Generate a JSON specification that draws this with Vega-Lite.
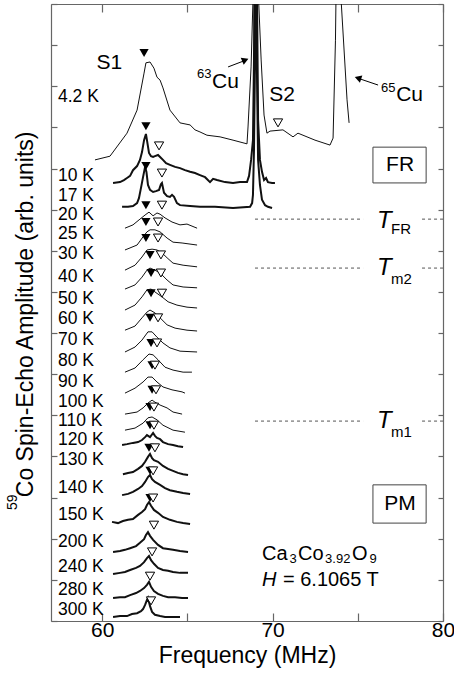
{
  "$schema": "https://vega.github.io/schema/vega-lite/v6.json",
  "width": 392,
  "height": 617,
  "autosize": {"type": "none"},
  "padding": {"left": 51, "top": 4, "right": 11, "bottom": 60},
  "background": "white",
  "config": {
    "view": {"stroke": null},
    "font": "Liberation Sans",
    "axis": {"grid": false, "domainColor": "#666666", "tickColor": "#666666", "domainWidth": 1.2, "tickWidth": 1.2, "labelColor": "#000000", "titleColor": "#000000", "titleFontWeight": "normal", "labelFlush": false, "labelOverlap": false}
  },
  "datasets": {
    "thin": [
      {"s": "4.2 K", "f": 59.58, "a": 11.21}, {"s": "4.2 K", "f": 60.46, "a": 11.30}, {"s": "4.2 K", "f": 61.46, "a": 11.86}, {"s": "4.2 K", "f": 62.05, "a": 12.42}, {"s": "4.2 K", "f": 62.46, "a": 13.32}, {"s": "4.2 K", "f": 62.57, "a": 13.57}, {"s": "4.2 K", "f": 62.81, "a": 13.59}, {"s": "4.2 K", "f": 63.04, "a": 13.44}, {"s": "4.2 K", "f": 63.22, "a": 13.22}, {"s": "4.2 K", "f": 63.40, "a": 13.15}, {"s": "4.2 K", "f": 63.57, "a": 12.96}, {"s": "4.2 K", "f": 63.98, "a": 12.42}, {"s": "4.2 K", "f": 64.57, "a": 12.11}, {"s": "4.2 K", "f": 65.16, "a": 12.06}, {"s": "4.2 K", "f": 65.45, "a": 11.94}, {"s": "4.2 K", "f": 65.74, "a": 11.89}, {"s": "4.2 K", "f": 66.15, "a": 11.81}, {"s": "4.2 K", "f": 66.92, "a": 11.77}, {"s": "4.2 K", "f": 67.68, "a": 11.69}, {"s": "4.2 K", "f": 68.50, "a": 11.60}, {"s": "4.2 K", "f": 68.56, "a": 12.01}, {"s": "4.2 K", "f": 68.74, "a": 13.47}, {"s": "4.2 K", "f": 68.85, "a": 15.10}, {"s": "4.2 K", "f": 68.88, "a": 16.07}, {"s": "4.2 K", "f": 69.15, "a": 16.07}, {"s": "4.2 K", "f": 69.18, "a": 15.10}, {"s": "4.2 K", "f": 69.33, "a": 13.64}, {"s": "4.2 K", "f": 69.50, "a": 12.30}, {"s": "4.2 K", "f": 69.67, "a": 11.86}, {"s": "4.2 K", "f": 69.85, "a": 11.91}, {"s": "4.2 K", "f": 70.61, "a": 11.94}, {"s": "4.2 K", "f": 71.20, "a": 11.77}, {"s": "4.2 K", "f": 71.49, "a": 11.86}, {"s": "4.2 K", "f": 72.49, "a": 11.69}, {"s": "4.2 K", "f": 73.37, "a": 11.57}, {"s": "4.2 K", "f": 73.55, "a": 11.74}, {"s": "4.2 K", "f": 73.69, "a": 14.12}, {"s": "4.2 K", "f": 73.75, "a": 16.07}, {"s": "4.2 K", "f": 73.90, "a": 16.07}, {"s": "4.2 K", "f": 74.02, "a": 15.10}, {"s": "4.2 K", "f": 74.37, "a": 12.67}, {"s": "4.2 K", "f": 74.49, "a": 12.11},
      {"s": "20 K", "f": 61.34, "a": 9.55}, {"s": "20 K", "f": 61.81, "a": 9.63}, {"s": "20 K", "f": 62.22, "a": 9.77}, {"s": "20 K", "f": 62.52, "a": 9.87}, {"s": "20 K", "f": 62.75, "a": 9.94}, {"s": "20 K", "f": 62.99, "a": 9.85}, {"s": "20 K", "f": 63.22, "a": 9.92}, {"s": "20 K", "f": 63.40, "a": 9.89}, {"s": "20 K", "f": 63.69, "a": 9.80}, {"s": "20 K", "f": 64.10, "a": 9.70}, {"s": "20 K", "f": 64.57, "a": 9.63}, {"s": "20 K", "f": 64.98, "a": 9.65}, {"s": "20 K", "f": 65.57, "a": 9.55},
      {"s": "25 K", "f": 61.34, "a": 9.02}, {"s": "25 K", "f": 62.05, "a": 9.14}, {"s": "25 K", "f": 62.40, "a": 9.34}, {"s": "25 K", "f": 62.63, "a": 9.46}, {"s": "25 K", "f": 62.81, "a": 9.51}, {"s": "25 K", "f": 63.10, "a": 9.51}, {"s": "25 K", "f": 63.40, "a": 9.46}, {"s": "25 K", "f": 63.81, "a": 9.31}, {"s": "25 K", "f": 64.16, "a": 9.21}, {"s": "25 K", "f": 64.69, "a": 9.19}, {"s": "25 K", "f": 65.57, "a": 9.14},
      {"s": "30 K", "f": 61.34, "a": 8.53}, {"s": "30 K", "f": 61.93, "a": 8.65}, {"s": "30 K", "f": 62.34, "a": 8.85}, {"s": "30 K", "f": 62.63, "a": 9.02}, {"s": "30 K", "f": 62.93, "a": 9.04}, {"s": "30 K", "f": 63.22, "a": 9.02}, {"s": "30 K", "f": 63.51, "a": 8.95}, {"s": "30 K", "f": 63.81, "a": 8.83}, {"s": "30 K", "f": 64.16, "a": 8.70}, {"s": "30 K", "f": 64.75, "a": 8.65}, {"s": "30 K", "f": 65.57, "a": 8.61},
      {"s": "40 K", "f": 61.34, "a": 8.07}, {"s": "40 K", "f": 61.93, "a": 8.17}, {"s": "40 K", "f": 62.34, "a": 8.36}, {"s": "40 K", "f": 62.63, "a": 8.53}, {"s": "40 K", "f": 62.81, "a": 8.58}, {"s": "40 K", "f": 63.10, "a": 8.53}, {"s": "40 K", "f": 63.40, "a": 8.46}, {"s": "40 K", "f": 63.81, "a": 8.29}, {"s": "40 K", "f": 64.16, "a": 8.17}, {"s": "40 K", "f": 64.75, "a": 8.12}, {"s": "40 K", "f": 65.57, "a": 8.10},
      {"s": "50 K", "f": 61.34, "a": 7.56}, {"s": "50 K", "f": 61.93, "a": 7.68}, {"s": "50 K", "f": 62.34, "a": 7.88}, {"s": "50 K", "f": 62.63, "a": 8.05}, {"s": "50 K", "f": 62.87, "a": 8.07}, {"s": "50 K", "f": 63.10, "a": 8.00}, {"s": "50 K", "f": 63.51, "a": 7.88}, {"s": "50 K", "f": 63.87, "a": 7.76}, {"s": "50 K", "f": 64.39, "a": 7.68}, {"s": "50 K", "f": 64.98, "a": 7.63}, {"s": "50 K", "f": 65.57, "a": 7.61},
      {"s": "60 K", "f": 61.34, "a": 7.07}, {"s": "60 K", "f": 61.93, "a": 7.17}, {"s": "60 K", "f": 62.34, "a": 7.37}, {"s": "60 K", "f": 62.63, "a": 7.51}, {"s": "60 K", "f": 62.81, "a": 7.56}, {"s": "60 K", "f": 63.10, "a": 7.49}, {"s": "60 K", "f": 63.40, "a": 7.37}, {"s": "60 K", "f": 63.81, "a": 7.20}, {"s": "60 K", "f": 64.28, "a": 7.12}, {"s": "60 K", "f": 64.98, "a": 7.07}, {"s": "60 K", "f": 65.57, "a": 7.05},
      {"s": "70 K", "f": 61.34, "a": 6.54}, {"s": "70 K", "f": 61.93, "a": 6.66}, {"s": "70 K", "f": 62.34, "a": 6.83}, {"s": "70 K", "f": 62.69, "a": 7.03}, {"s": "70 K", "f": 62.93, "a": 7.03}, {"s": "70 K", "f": 63.22, "a": 6.90}, {"s": "70 K", "f": 63.57, "a": 6.76}, {"s": "70 K", "f": 63.98, "a": 6.64}, {"s": "70 K", "f": 64.57, "a": 6.56}, {"s": "70 K", "f": 65.57, "a": 6.54},
      {"s": "80 K", "f": 61.34, "a": 6.05}, {"s": "80 K", "f": 61.93, "a": 6.15}, {"s": "80 K", "f": 62.40, "a": 6.35}, {"s": "80 K", "f": 62.75, "a": 6.49}, {"s": "80 K", "f": 62.99, "a": 6.47}, {"s": "80 K", "f": 63.28, "a": 6.35}, {"s": "80 K", "f": 63.69, "a": 6.17}, {"s": "80 K", "f": 64.16, "a": 6.10}, {"s": "80 K", "f": 64.75, "a": 6.05}, {"s": "80 K", "f": 65.27, "a": 6.05},
      {"s": "90 K", "f": 61.34, "a": 5.54}, {"s": "90 K", "f": 61.93, "a": 5.66}, {"s": "90 K", "f": 62.40, "a": 5.81}, {"s": "90 K", "f": 62.69, "a": 5.93}, {"s": "90 K", "f": 62.93, "a": 5.93}, {"s": "90 K", "f": 63.22, "a": 5.81}, {"s": "90 K", "f": 63.57, "a": 5.69}, {"s": "90 K", "f": 64.10, "a": 5.62}, {"s": "90 K", "f": 64.69, "a": 5.57}, {"s": "90 K", "f": 64.86, "a": 5.54},
      {"s": "100 K", "f": 61.34, "a": 5.03}, {"s": "100 K", "f": 62.05, "a": 5.08}, {"s": "100 K", "f": 62.40, "a": 5.18}, {"s": "100 K", "f": 62.69, "a": 5.30}, {"s": "100 K", "f": 62.93, "a": 5.37}, {"s": "100 K", "f": 63.10, "a": 5.32}, {"s": "100 K", "f": 63.40, "a": 5.25}, {"s": "100 K", "f": 63.81, "a": 5.18}, {"s": "100 K", "f": 64.16, "a": 5.08}, {"s": "100 K", "f": 64.69, "a": 5.03},
      {"s": "110 K", "f": 61.34, "a": 4.64}, {"s": "110 K", "f": 61.93, "a": 4.69}, {"s": "110 K", "f": 62.40, "a": 4.81}, {"s": "110 K", "f": 62.69, "a": 4.94}, {"s": "110 K", "f": 62.93, "a": 4.96}, {"s": "110 K", "f": 63.22, "a": 4.89}, {"s": "110 K", "f": 63.57, "a": 4.76}, {"s": "110 K", "f": 64.16, "a": 4.64}, {"s": "110 K", "f": 64.86, "a": 4.59}
    ],
    "thick": [
      {"s": "10 K", "f": 60.64, "a": 10.65}, {"s": "10 K", "f": 61.05, "a": 10.67}, {"s": "10 K", "f": 61.28, "a": 10.72}, {"s": "10 K", "f": 61.46, "a": 10.77}, {"s": "10 K", "f": 61.64, "a": 10.82}, {"s": "10 K", "f": 61.81, "a": 10.96}, {"s": "10 K", "f": 62.05, "a": 11.06}, {"s": "10 K", "f": 62.22, "a": 11.21}, {"s": "10 K", "f": 62.34, "a": 11.40}, {"s": "10 K", "f": 62.46, "a": 11.69}, {"s": "10 K", "f": 62.57, "a": 11.84}, {"s": "10 K", "f": 62.63, "a": 11.69}, {"s": "10 K", "f": 62.75, "a": 11.38}, {"s": "10 K", "f": 62.87, "a": 11.30}, {"s": "10 K", "f": 62.99, "a": 11.28}, {"s": "10 K", "f": 63.10, "a": 11.30}, {"s": "10 K", "f": 63.28, "a": 11.33}, {"s": "10 K", "f": 63.40, "a": 11.28}, {"s": "10 K", "f": 63.57, "a": 11.21}, {"s": "10 K", "f": 63.75, "a": 11.13}, {"s": "10 K", "f": 63.98, "a": 11.09}, {"s": "10 K", "f": 64.28, "a": 11.04}, {"s": "10 K", "f": 64.57, "a": 11.01}, {"s": "10 K", "f": 64.86, "a": 10.96}, {"s": "10 K", "f": 65.16, "a": 10.92}, {"s": "10 K", "f": 65.45, "a": 10.89}, {"s": "10 K", "f": 65.74, "a": 10.84}, {"s": "10 K", "f": 66.04, "a": 10.79}, {"s": "10 K", "f": 66.33, "a": 10.67}, {"s": "10 K", "f": 66.51, "a": 10.75}, {"s": "10 K", "f": 66.74, "a": 10.72}, {"s": "10 K", "f": 67.21, "a": 10.67}, {"s": "10 K", "f": 67.68, "a": 10.65}, {"s": "10 K", "f": 68.09, "a": 10.67}, {"s": "10 K", "f": 68.50, "a": 10.67}, {"s": "10 K", "f": 68.62, "a": 10.82}, {"s": "10 K", "f": 68.74, "a": 11.21}, {"s": "10 K", "f": 68.85, "a": 11.69}, {"s": "10 K", "f": 68.91, "a": 13.64}, {"s": "10 K", "f": 68.94, "a": 16.07}, {"s": "10 K", "f": 69.06, "a": 16.07}, {"s": "10 K", "f": 69.09, "a": 15.10}, {"s": "10 K", "f": 69.15, "a": 12.18}, {"s": "10 K", "f": 69.26, "a": 11.21}, {"s": "10 K", "f": 69.38, "a": 10.92}, {"s": "10 K", "f": 69.50, "a": 10.72}, {"s": "10 K", "f": 69.62, "a": 10.77}, {"s": "10 K", "f": 69.73, "a": 10.67}, {"s": "10 K", "f": 69.97, "a": 10.65}, {"s": "10 K", "f": 70.14, "a": 10.65},
      {"s": "17 K", "f": 61.17, "a": 10.07}, {"s": "17 K", "f": 61.52, "a": 10.07}, {"s": "17 K", "f": 61.81, "a": 10.09}, {"s": "17 K", "f": 62.05, "a": 10.16}, {"s": "17 K", "f": 62.16, "a": 10.28}, {"s": "17 K", "f": 62.28, "a": 10.53}, {"s": "17 K", "f": 62.40, "a": 10.79}, {"s": "17 K", "f": 62.52, "a": 11.04}, {"s": "17 K", "f": 62.60, "a": 10.92}, {"s": "17 K", "f": 62.69, "a": 10.60}, {"s": "17 K", "f": 62.81, "a": 10.48}, {"s": "17 K", "f": 62.99, "a": 10.43}, {"s": "17 K", "f": 63.16, "a": 10.45}, {"s": "17 K", "f": 63.34, "a": 10.48}, {"s": "17 K", "f": 63.45, "a": 10.62}, {"s": "17 K", "f": 63.51, "a": 10.65}, {"s": "17 K", "f": 63.63, "a": 10.41}, {"s": "17 K", "f": 63.81, "a": 10.33}, {"s": "17 K", "f": 63.98, "a": 10.31}, {"s": "17 K", "f": 64.10, "a": 10.36}, {"s": "17 K", "f": 64.22, "a": 10.31}, {"s": "17 K", "f": 64.39, "a": 10.16}, {"s": "17 K", "f": 64.57, "a": 10.11}, {"s": "17 K", "f": 65.16, "a": 10.09}, {"s": "17 K", "f": 65.74, "a": 10.07}, {"s": "17 K", "f": 66.62, "a": 10.07}, {"s": "17 K", "f": 67.68, "a": 10.04}, {"s": "17 K", "f": 68.68, "a": 10.07}, {"s": "17 K", "f": 68.80, "a": 10.16}, {"s": "17 K", "f": 68.85, "a": 10.36}, {"s": "17 K", "f": 68.91, "a": 11.45}, {"s": "17 K", "f": 68.97, "a": 13.64}, {"s": "17 K", "f": 69.00, "a": 16.07}, {"s": "17 K", "f": 69.03, "a": 16.07}, {"s": "17 K", "f": 69.06, "a": 14.12}, {"s": "17 K", "f": 69.15, "a": 11.21}, {"s": "17 K", "f": 69.26, "a": 10.60}, {"s": "17 K", "f": 69.38, "a": 10.24}, {"s": "17 K", "f": 69.56, "a": 10.11}, {"s": "17 K", "f": 69.73, "a": 10.07}, {"s": "17 K", "f": 69.97, "a": 10.04},
      {"s": "120 K", "f": 61.17, "a": 4.28}, {"s": "120 K", "f": 61.46, "a": 4.30}, {"s": "120 K", "f": 61.81, "a": 4.33}, {"s": "120 K", "f": 62.11, "a": 4.35}, {"s": "120 K", "f": 62.34, "a": 4.40}, {"s": "120 K", "f": 62.52, "a": 4.47}, {"s": "120 K", "f": 62.63, "a": 4.52}, {"s": "120 K", "f": 62.81, "a": 4.47}, {"s": "120 K", "f": 62.99, "a": 4.57}, {"s": "120 K", "f": 63.10, "a": 4.50}, {"s": "120 K", "f": 63.22, "a": 4.45}, {"s": "120 K", "f": 63.40, "a": 4.42}, {"s": "120 K", "f": 63.57, "a": 4.35}, {"s": "120 K", "f": 63.87, "a": 4.30}, {"s": "120 K", "f": 64.16, "a": 4.28}, {"s": "120 K", "f": 64.45, "a": 4.25}, {"s": "120 K", "f": 64.75, "a": 4.23},
      {"s": "130 K", "f": 61.22, "a": 3.57}, {"s": "130 K", "f": 61.52, "a": 3.60}, {"s": "130 K", "f": 61.81, "a": 3.62}, {"s": "130 K", "f": 62.11, "a": 3.70}, {"s": "130 K", "f": 62.34, "a": 3.77}, {"s": "130 K", "f": 62.52, "a": 3.87}, {"s": "130 K", "f": 62.69, "a": 3.99}, {"s": "130 K", "f": 62.81, "a": 4.06}, {"s": "130 K", "f": 62.93, "a": 3.96}, {"s": "130 K", "f": 63.04, "a": 3.91}, {"s": "130 K", "f": 63.28, "a": 3.87}, {"s": "130 K", "f": 63.57, "a": 3.77}, {"s": "130 K", "f": 63.87, "a": 3.70}, {"s": "130 K", "f": 64.16, "a": 3.65}, {"s": "130 K", "f": 64.45, "a": 3.60}, {"s": "130 K", "f": 64.75, "a": 3.57}, {"s": "130 K", "f": 65.04, "a": 3.55},
      {"s": "140 K", "f": 61.17, "a": 3.06}, {"s": "140 K", "f": 61.52, "a": 3.09}, {"s": "140 K", "f": 61.81, "a": 3.14}, {"s": "140 K", "f": 62.11, "a": 3.21}, {"s": "140 K", "f": 62.34, "a": 3.28}, {"s": "140 K", "f": 62.52, "a": 3.38}, {"s": "140 K", "f": 62.69, "a": 3.50}, {"s": "140 K", "f": 62.81, "a": 3.55}, {"s": "140 K", "f": 62.93, "a": 3.45}, {"s": "140 K", "f": 63.10, "a": 3.38}, {"s": "140 K", "f": 63.40, "a": 3.31}, {"s": "140 K", "f": 63.69, "a": 3.23}, {"s": "140 K", "f": 63.98, "a": 3.18}, {"s": "140 K", "f": 64.39, "a": 3.14}, {"s": "140 K", "f": 64.75, "a": 3.11}, {"s": "140 K", "f": 65.16, "a": 3.09},
      {"s": "150 K", "f": 60.58, "a": 2.41}, {"s": "150 K", "f": 60.93, "a": 2.38}, {"s": "150 K", "f": 61.22, "a": 2.43}, {"s": "150 K", "f": 61.52, "a": 2.46}, {"s": "150 K", "f": 61.81, "a": 2.48}, {"s": "150 K", "f": 62.11, "a": 2.58}, {"s": "150 K", "f": 62.34, "a": 2.65}, {"s": "150 K", "f": 62.52, "a": 2.72}, {"s": "150 K", "f": 62.63, "a": 2.82}, {"s": "150 K", "f": 62.75, "a": 2.89}, {"s": "150 K", "f": 62.87, "a": 2.80}, {"s": "150 K", "f": 63.04, "a": 2.70}, {"s": "150 K", "f": 63.28, "a": 2.63}, {"s": "150 K", "f": 63.57, "a": 2.53}, {"s": "150 K", "f": 63.98, "a": 2.46}, {"s": "150 K", "f": 64.39, "a": 2.41}, {"s": "150 K", "f": 64.75, "a": 2.38}, {"s": "150 K", "f": 65.16, "a": 2.36},
      {"s": "200 K", "f": 60.64, "a": 1.68}, {"s": "200 K", "f": 61.05, "a": 1.70}, {"s": "200 K", "f": 61.34, "a": 1.73}, {"s": "200 K", "f": 61.64, "a": 1.77}, {"s": "200 K", "f": 61.99, "a": 1.82}, {"s": "200 K", "f": 62.22, "a": 1.90}, {"s": "200 K", "f": 62.46, "a": 1.99}, {"s": "200 K", "f": 62.57, "a": 2.09}, {"s": "200 K", "f": 62.69, "a": 2.16}, {"s": "200 K", "f": 62.81, "a": 2.07}, {"s": "200 K", "f": 62.99, "a": 1.97}, {"s": "200 K", "f": 63.28, "a": 1.85}, {"s": "200 K", "f": 63.57, "a": 1.77}, {"s": "200 K", "f": 63.87, "a": 1.75}, {"s": "200 K", "f": 64.16, "a": 1.73}, {"s": "200 K", "f": 64.57, "a": 1.70}, {"s": "200 K", "f": 65.04, "a": 1.68},
      {"s": "240 K", "f": 60.64, "a": 1.14}, {"s": "240 K", "f": 61.05, "a": 1.17}, {"s": "240 K", "f": 61.34, "a": 1.19}, {"s": "240 K", "f": 61.64, "a": 1.24}, {"s": "240 K", "f": 61.99, "a": 1.29}, {"s": "240 K", "f": 62.22, "a": 1.34}, {"s": "240 K", "f": 62.46, "a": 1.43}, {"s": "240 K", "f": 62.63, "a": 1.53}, {"s": "240 K", "f": 62.75, "a": 1.58}, {"s": "240 K", "f": 62.87, "a": 1.48}, {"s": "240 K", "f": 63.04, "a": 1.39}, {"s": "240 K", "f": 63.28, "a": 1.29}, {"s": "240 K", "f": 63.57, "a": 1.24}, {"s": "240 K", "f": 63.87, "a": 1.22}, {"s": "240 K", "f": 64.16, "a": 1.19}, {"s": "240 K", "f": 64.57, "a": 1.17}, {"s": "240 K", "f": 65.04, "a": 1.17},
      {"s": "280 K", "f": 60.64, "a": 0.56}, {"s": "280 K", "f": 61.05, "a": 0.58}, {"s": "280 K", "f": 61.34, "a": 0.58}, {"s": "280 K", "f": 61.64, "a": 0.63}, {"s": "280 K", "f": 61.99, "a": 0.68}, {"s": "280 K", "f": 62.22, "a": 0.73}, {"s": "280 K", "f": 62.46, "a": 0.80}, {"s": "280 K", "f": 62.63, "a": 0.88}, {"s": "280 K", "f": 62.75, "a": 0.95}, {"s": "280 K", "f": 62.87, "a": 0.83}, {"s": "280 K", "f": 63.04, "a": 0.73}, {"s": "280 K", "f": 63.28, "a": 0.66}, {"s": "280 K", "f": 63.57, "a": 0.61}, {"s": "280 K", "f": 63.87, "a": 0.58}, {"s": "280 K", "f": 64.28, "a": 0.58}, {"s": "280 K", "f": 64.69, "a": 0.56}, {"s": "280 K", "f": 65.04, "a": 0.56},
      {"s": "300 K", "f": 60.64, "a": 0.10}, {"s": "300 K", "f": 61.05, "a": 0.12}, {"s": "300 K", "f": 61.46, "a": 0.12}, {"s": "300 K", "f": 61.75, "a": 0.17}, {"s": "300 K", "f": 62.05, "a": 0.19}, {"s": "300 K", "f": 62.28, "a": 0.24}, {"s": "300 K", "f": 62.40, "a": 0.29}, {"s": "300 K", "f": 62.52, "a": 0.39}, {"s": "300 K", "f": 62.63, "a": 0.51}, {"s": "300 K", "f": 62.69, "a": 0.56}, {"s": "300 K", "f": 62.81, "a": 0.36}, {"s": "300 K", "f": 62.93, "a": 0.22}, {"s": "300 K", "f": 63.10, "a": 0.15}, {"s": "300 K", "f": 63.40, "a": 0.12}, {"s": "300 K", "f": 63.69, "a": 0.10}, {"s": "300 K", "f": 64.10, "a": 0.10}, {"s": "300 K", "f": 64.57, "a": 0.10}
    ],
    "filled": [
      {"s": "4.2 K", "f": 62.46, "a": 13.81}, {"s": "10 K", "f": 62.57, "a": 12.03}, {"s": "17 K", "f": 62.57, "a": 11.06}, {"s": "20 K", "f": 62.57, "a": 10.11}, {"s": "25 K", "f": 62.57, "a": 9.70}, {"s": "30 K", "f": 62.57, "a": 9.31}, {"s": "40 K", "f": 62.81, "a": 8.90}, {"s": "50 K", "f": 62.87, "a": 8.46}, {"s": "60 K", "f": 62.87, "a": 7.97}, {"s": "70 K", "f": 62.81, "a": 7.37}, {"s": "80 K", "f": 62.87, "a": 6.76}, {"s": "90 K", "f": 62.93, "a": 6.22}, {"s": "100 K", "f": 62.93, "a": 5.62}, {"s": "110 K", "f": 62.81, "a": 5.20}, {"s": "120 K", "f": 62.81, "a": 4.76}, {"s": "130 K", "f": 62.75, "a": 4.21}, {"s": "140 K", "f": 62.81, "a": 3.65}, {"s": "150 K", "f": 62.81, "a": 2.99}
    ],
    "open": [
      {"s": "4.2 K", "f": 70.32, "a": 12.11}, {"s": "10 K", "f": 63.34, "a": 11.55}, {"s": "17 K", "f": 63.51, "a": 10.89}, {"s": "20 K", "f": 63.51, "a": 10.11}, {"s": "25 K", "f": 63.28, "a": 9.70}, {"s": "30 K", "f": 63.28, "a": 9.31}, {"s": "40 K", "f": 63.45, "a": 8.90}, {"s": "50 K", "f": 63.45, "a": 8.46}, {"s": "60 K", "f": 63.51, "a": 7.97}, {"s": "70 K", "f": 63.28, "a": 7.37}, {"s": "80 K", "f": 63.22, "a": 6.76}, {"s": "90 K", "f": 63.10, "a": 6.22}, {"s": "100 K", "f": 63.16, "a": 5.62}, {"s": "110 K", "f": 63.04, "a": 5.20}, {"s": "120 K", "f": 63.04, "a": 4.76}, {"s": "130 K", "f": 63.10, "a": 4.21}, {"s": "140 K", "f": 62.99, "a": 3.65}, {"s": "150 K", "f": 62.99, "a": 2.99}, {"s": "200 K", "f": 63.04, "a": 2.33}, {"s": "240 K", "f": 62.93, "a": 1.68}, {"s": "280 K", "f": 62.81, "a": 1.09}, {"s": "300 K", "f": 62.87, "a": 0.49}
    ],
    "labels": [
      {"t": "4.2 K", "f": 57.41, "a": 12.74}, {"t": "10 K", "f": 57.41, "a": 10.82}, {"t": "17 K", "f": 57.41, "a": 10.34}, {"t": "20 K", "f": 57.41, "a": 9.87}, {"t": "25 K", "f": 57.41, "a": 9.41}, {"t": "30 K", "f": 57.41, "a": 8.92}, {"t": "40 K", "f": 57.41, "a": 8.36}, {"t": "50 K", "f": 57.41, "a": 7.83}, {"t": "60 K", "f": 57.41, "a": 7.35}, {"t": "70 K", "f": 57.41, "a": 6.83}, {"t": "80 K", "f": 57.41, "a": 6.32}, {"t": "90 K", "f": 57.41, "a": 5.80}, {"t": "100 K", "f": 57.41, "a": 5.32}, {"t": "110 K", "f": 57.41, "a": 4.86}, {"t": "120 K", "f": 57.41, "a": 4.39}, {"t": "130 K", "f": 57.41, "a": 3.91}, {"t": "140 K", "f": 57.41, "a": 3.23}, {"t": "150 K", "f": 57.41, "a": 2.58}, {"t": "200 K", "f": 57.41, "a": 1.92}, {"t": "240 K", "f": 57.41, "a": 1.31}, {"t": "280 K", "f": 57.41, "a": 0.75}, {"t": "300 K", "f": 57.41, "a": 0.27}
    ]
  },
  "resolve": {"axis": {"x": "independent", "y": "independent"}},
  "encoding": {
    "x": {"field": "f", "type": "quantitative", "scale": {"domain": [57, 80], "nice": false, "zero": false}, "axis": null},
    "y": {"field": "a", "type": "quantitative", "scale": {"domain": [0, 15], "nice": false, "zero": false}, "axis": null}
  },
  "layer": [
    {
      "data": {"name": "thin"},
      "mark": {"type": "line", "clip": true, "color": "#111111", "strokeWidth": 1},
      "encoding": {
        "x": {"field": "f", "type": "quantitative", "axis": {"orient": "bottom", "values": [60, 65, 70, 75, 80], "labelExpr": "datum.value % 10 === 0 ? datum.label : ''", "tickSize": -8, "labelFontSize": 21, "labelPadding": 6, "title": "Frequency (MHz)", "titleFontSize": 23, "titlePadding": 4}},
        "y": {"field": "a", "type": "quantitative", "axis": {"orient": "left", "values": [0, 1, 2, 3, 4, 5, 6, 7, 8, 9, 10, 11, 12, 13, 14, 15], "labels": false, "tickSize": -6, "title": null}},
        "detail": {"field": "s"}
      }
    },
    {
      "data": {"name": "thick"},
      "mark": {"type": "line", "clip": true, "color": "#111111", "strokeWidth": 2},
      "encoding": {
        "x": {"field": "f", "type": "quantitative", "axis": {"orient": "top", "values": [60, 65, 70, 75, 80], "labels": false, "tickSize": -8, "title": null}},
        "y": {"field": "a", "type": "quantitative", "axis": {"orient": "right", "values": [0, 1, 2, 3, 4, 5, 6, 7, 8, 9, 10, 11, 12, 13, 14, 15], "labels": false, "tickSize": -5, "title": null}},
        "detail": {"field": "s"}
      }
    },
    {
      "data": {"values": [{"k": "T_FR", "f": 68.97, "f2": 75.31, "a": 9.77}, {"k": "T_FR", "f": 78.77, "f2": 80, "a": 9.77}, {"k": "T_m2", "f": 68.97, "f2": 75.31, "a": 8.58}, {"k": "T_m2", "f": 78.77, "f2": 80, "a": 8.58}, {"k": "T_m1", "f": 68.97, "f2": 75.31, "a": 4.86}, {"k": "T_m1", "f": 78.77, "f2": 80, "a": 4.86}]},
      "mark": {"type": "rule", "color": "#555555", "strokeWidth": 1, "strokeDash": [3, 3]},
      "encoding": {"x2": {"field": "f2"}}
    },
    {
      "data": {"name": "filled"},
      "mark": {"type": "point", "shape": "triangle-down", "filled": true, "color": "#000000", "size": 85, "opacity": 1}
    },
    {
      "data": {"name": "open"},
      "mark": {"type": "point", "shape": "triangle-down", "filled": true, "fill": "#ffffff", "stroke": "#000000", "strokeWidth": 1, "size": 85, "opacity": 1}
    },
    {
      "data": {"name": "labels"},
      "mark": {"type": "text", "align": "left", "baseline": "middle", "fontSize": 17.5, "color": "#000000"},
      "encoding": {"text": {"field": "t"}}
    },
    {
      "data": {"values": [{"t": "S1", "f": 60.43, "a": 13.57}, {"t": "S2", "f": 70.56, "a": 12.78}, {"t": "FR", "f": 77.48, "a": 11.09}, {"t": "PM", "f": 77.48, "a": 2.84}]},
      "mark": {"type": "text", "align": "center", "baseline": "middle", "fontSize": 21, "color": "#000000"},
      "encoding": {"text": {"field": "t"}}
    },
    {
      "data": {"values": [{"t": "Cu", "f": 66.45, "a": 13.10}, {"t": "Cu", "f": 77.25, "a": 12.79}]},
      "mark": {"type": "text", "align": "left", "baseline": "middle", "fontSize": 21, "color": "#000000"},
      "encoding": {"text": {"field": "t"}}
    },
    {
      "data": {"values": [{"t": "Ca", "f": 69.38, "a": 1.62}, {"t": "Co", "f": 71.49, "a": 1.62}, {"t": "O", "f": 74.66, "a": 1.62}, {"t": "= 6.1065 T", "f": 70.61, "a": 1.00}]},
      "mark": {"type": "text", "align": "left", "baseline": "middle", "fontSize": 20, "color": "#000000"},
      "encoding": {"text": {"field": "t"}}
    },
    {
      "data": {"values": [{"t": "63", "f": 65.57, "a": 13.30}, {"t": "65", "f": 76.36, "a": 12.96}, {"t": "3", "f": 70.99, "a": 1.50}, {"t": "3.92", "f": 73.08, "a": 1.50}, {"t": "9", "f": 75.69, "a": 1.50}]},
      "mark": {"type": "text", "align": "left", "baseline": "middle", "fontSize": 13, "color": "#000000"},
      "encoding": {"text": {"field": "t"}}
    },
    {
      "data": {"values": [{"t": "H", "f": 69.38, "a": 1.00}]},
      "mark": {"type": "text", "align": "left", "baseline": "middle", "fontSize": 20, "fontStyle": "italic", "color": "#000000"},
      "encoding": {"text": {"field": "t"}}
    },
    {
      "data": {"values": [{"t": "T", "f": 76.13, "a": 9.72}, {"t": "T", "f": 76.13, "a": 8.58}, {"t": "T", "f": 76.13, "a": 4.86}]},
      "mark": {"type": "text", "align": "left", "baseline": "middle", "fontSize": 24, "fontStyle": "italic", "color": "#000000"},
      "encoding": {"text": {"field": "t"}}
    },
    {
      "data": {"values": [{"t": "FR", "f": 76.95, "a": 9.53}, {"t": "m2", "f": 76.95, "a": 8.31}, {"t": "m1", "f": 76.95, "a": 4.59}]},
      "mark": {"type": "text", "align": "left", "baseline": "middle", "fontSize": 15, "color": "#000000"},
      "encoding": {"text": {"field": "t"}}
    },
    {
      "data": {"values": [{"b": "FR", "f": 75.89, "f2": 79.01, "a": 11.52, "a2": 10.65}, {"b": "PM", "f": 75.89, "f2": 79.01, "a": 3.31, "a2": 2.38}]},
      "mark": {"type": "rect", "fill": null, "fillOpacity": 0, "stroke": "#444444", "strokeWidth": 1},
      "encoding": {"x2": {"field": "f2"}, "y2": {"field": "a2"}}
    },
    {
      "data": {"values": [{"k": "63Cu", "f": 67.39, "f2": 68.40, "a": 13.47, "a2": 13.63}, {"k": "65Cu", "f": 76.19, "f2": 75.05, "a": 13.03, "a2": 13.19}]},
      "mark": {"type": "rule", "color": "#000000", "strokeWidth": 1},
      "encoding": {"x2": {"field": "f2"}, "y2": {"field": "a2"}}
    },
    {
      "data": {"values": [{"k": "63Cu", "f": 68.40, "a": 13.64}]},
      "mark": {"type": "point", "shape": "triangle-right", "angle": 337, "filled": true, "color": "#000000", "size": 60, "opacity": 1}
    },
    {
      "data": {"values": [{"k": "65Cu", "f": 75.01, "a": 13.20}]},
      "mark": {"type": "point", "shape": "triangle-left", "angle": 18, "filled": true, "color": "#000000", "size": 60, "opacity": 1}
    },
    {
      "data": {"values": [{"t": "Co Spin-Echo Amplitude (arb. units)", "f": 55.94, "a": 3.01}]},
      "mark": {"type": "text", "align": "left", "baseline": "alphabetic", "angle": 270, "fontSize": 23, "color": "#000000"},
      "encoding": {"text": {"field": "t"}}
    },
    {
      "data": {"values": [{"t": "59", "f": 55.0, "a": 2.70}]},
      "mark": {"type": "text", "align": "left", "baseline": "alphabetic", "angle": 270, "fontSize": 14, "color": "#000000"},
      "encoding": {"text": {"field": "t"}}
    }
  ]
}
